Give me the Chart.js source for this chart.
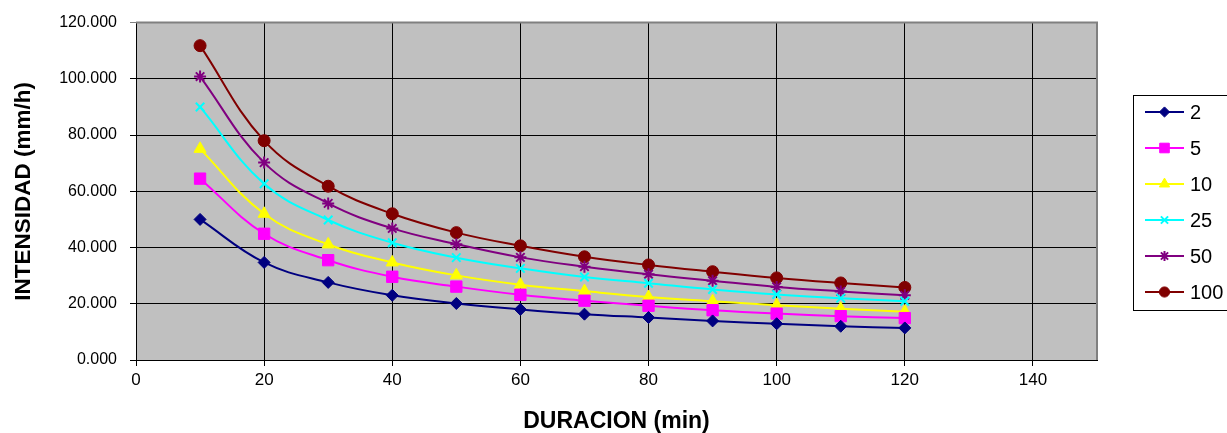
<!DOCTYPE html>
<html>
<head>
<meta charset="utf-8">
<script src="https://cdn.jsdelivr.net/npm/chart.js@4/dist/chart.umd.min.js"></script>
<style>
  html, body { margin: 0; padding: 0; background: #ffffff; }
  #wrap { width: 1227px; height: 433px; }
</style>
</head>
<body>
<div id="wrap"><canvas id="c" width="1227" height="433"></canvas></div>
<script>
// ---- data ----
const durations = [10, 20, 30, 40, 50, 60, 70, 80, 90, 100, 110, 120];
const seriesNames = ['2', '5', '10', '25', '50', '100'];
const t2   = [50.0, 34.7, 27.6, 23.0, 20.1, 18.0, 16.3, 15.1, 13.9, 12.9, 12.0, 11.4];
const t5   = [64.5, 44.9, 35.5, 29.6, 26.1, 23.2, 21.1, 19.3, 17.7, 16.5, 15.6, 14.9];
const t10  = [75.1, 52.0, 41.1, 34.7, 30.1, 26.8, 24.5, 22.4, 20.9, 19.5, 18.2, 17.2];
const t25  = [90.0, 62.7, 49.8, 41.7, 36.4, 32.6, 29.5, 27.3, 25.1, 23.3, 22.0, 20.9];
const t50  = [100.8, 70.2, 55.7, 46.8, 41.2, 36.5, 33.2, 30.5, 28.2, 26.0, 24.4, 23.0];
const t100 = [111.8, 78.0, 61.8, 52.0, 45.3, 40.6, 36.7, 33.8, 31.4, 29.2, 27.4, 25.8];
const xTicks = [0, 20, 40, 60, 80, 100, 120, 140];
const yTicks = [0, 20, 40, 60, 80, 100, 120];

const allValues = [t2, t5, t10, t25, t50, t100];
const colors = ['#000080', '#FF00FF', '#FFFF00', '#00FFFF', '#800080', '#800000'];
const styles = ['rectRot', 'rect', 'triangle', 'crossRot', 'star', 'circle'];
const radii = [6, 8, 7, 6, 6, 6];
const pbw = [1, 1, 1, 2, 2, 1];

const datasets = seriesNames.map((name, i) => ({
  label: name,
  data: durations.map((d, j) => ({ x: d, y: allValues[i][j] })),
  borderColor: colors[i],
  backgroundColor: colors[i],
  pointBackgroundColor: colors[i],
  pointBorderColor: colors[i],
  pointStyle: styles[i],
  pointRadius: radii[i],
  pointBorderWidth: pbw[i],
  borderWidth: 2,
  tension: 0.4,
  fill: false
}));

const FONT = "'Liberation Sans', Arial, sans-serif";

const plotBg = {
  id: 'plotBg',
  beforeDraw(chart) {
    const a = chart.chartArea, ctx = chart.ctx;
    ctx.save();
    ctx.fillStyle = '#C0C0C0';
    ctx.fillRect(a.left, a.top, a.right - a.left, a.bottom - a.top);
    ctx.restore();
  },
  afterDraw(chart) {
    const a = chart.chartArea, ctx = chart.ctx;
    ctx.save();
    ctx.strokeStyle = '#808080';
    ctx.lineWidth = 2;
    ctx.beginPath();
    ctx.moveTo(a.left, a.top);
    ctx.lineTo(a.right, a.top);
    ctx.lineTo(a.right, a.bottom);
    ctx.stroke();
    ctx.restore();
  }
};

const customLegend = {
  id: 'customLegend',
  afterDraw(chart) {
    const ctx = chart.ctx;
    ctx.save();
    ctx.strokeStyle = '#000';
    ctx.lineWidth = 1;
    ctx.strokeRect(1133.5, 95.5, 110, 215);
    const ys = [112, 148, 184, 220, 256, 292];
    chart.data.datasets.forEach((ds, i) => {
      const y = ys[i];
      ctx.strokeStyle = ds.borderColor;
      ctx.lineWidth = 2;
      ctx.beginPath();
      ctx.moveTo(1145, y);
      ctx.lineTo(1184, y);
      ctx.stroke();
      ctx.fillStyle = ds.pointBackgroundColor;
      ctx.strokeStyle = ds.pointBorderColor;
      ctx.lineWidth = ds.pointBorderWidth;
      if (Chart.helpers && Chart.helpers.drawPoint) {
        Chart.helpers.drawPoint(ctx, { pointStyle: ds.pointStyle, radius: ds.pointRadius * 0.85, rotation: 0, borderWidth: ds.pointBorderWidth }, 1164.5, y);
      }
      ctx.fillStyle = '#000';
      ctx.font = '20px ' + FONT;
      ctx.textBaseline = 'middle';
      ctx.textAlign = 'left';
      ctx.fillText(ds.label, 1190, y + 1);
    });
    ctx.restore();
  }
};

new Chart(document.getElementById('c'), {
  type: 'line',
  data: { datasets },
  options: {
    responsive: false,
    animation: false,
    layout: { padding: { left: 0, right: 130, top: 21, bottom: 0 } },
    plugins: { legend: { display: false }, tooltip: { enabled: false } },
    scales: {
      x: {
        type: 'linear',
        min: 0, max: 150,
        afterFit(s) { s.height = 73; },
        afterBuildTicks(s) { s.ticks = xTicks.map(v => ({ value: v })); },
        grid: { color: '#000', lineWidth: 1, tickLength: 6, drawTicks: true },
        border: { color: '#000', width: 1 },
        ticks: { color: '#000', font: { family: FONT, size: 17 }, padding: 4, maxRotation: 0 },
        title: { display: true, text: 'DURACION (min)', color: '#000', font: { family: FONT, size: 23, weight: 'bold', lineHeight: 1 }, padding: { top: 0, bottom: 0 } }
      },
      y: {
        type: 'linear',
        min: 0, max: 120,
        afterFit(s) { s.width = 136; },
        afterBuildTicks(s) { s.ticks = yTicks.map(v => ({ value: v })); },
        grid: { color: (c) => (c.tick && c.tick.value === 120 ? '#808080' : '#000'), lineWidth: 1, tickLength: 6 },
        border: { color: '#000', width: 1 },
        ticks: { color: '#000', font: { family: FONT, size: 16 }, padding: 13, callback: (v) => Number(v).toFixed(3) },
        title: { display: true, text: 'INTENSIDAD (mm/h)', color: '#000', font: { family: FONT, size: 22.5, weight: 'bold', lineHeight: 1 }, padding: { top: 13, bottom: 0 } }
      }
    }
  },
  plugins: [plotBg, customLegend]
});
</script>
</body>
</html>
